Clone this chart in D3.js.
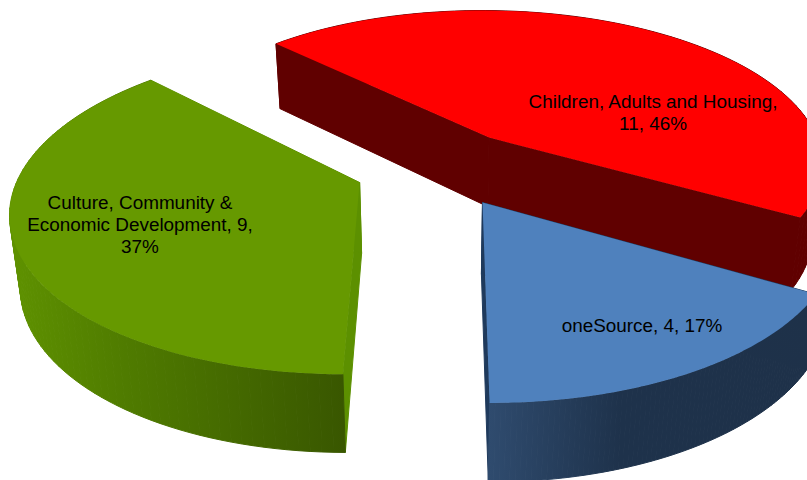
<!DOCTYPE html>
<html>
<head>
<meta charset="utf-8">
<script src="https://cdn.jsdelivr.net/npm/d3@7"></script>
<style>
  html, body { margin: 0; padding: 0; background: #fff; }
  svg { display: block; }
  text { font-family: "Liberation Sans", Arial, sans-serif; font-size: 18.9px; fill: #000; }
</style>
</head>
<body>
<script>
// Portfolio split by directorate
const categories = ["Children, Adults and Housing", "oneSource", "Culture, Community & Economic Development"];
const counts = [11, 4, 9];
const percents = [46, 17, 37];
const topColors = ["#ff0000", "#4f81bd", "#669900"];
const sideStops = [
  [["0%", "#600000"], ["100%", "#600000"]],
  [["0%", "#2f4b6e"], ["40%", "#1e324b"], ["100%", "#1e3149"]],
  [["0%", "#5f9200"], ["35%", "#4f7b00"], ["100%", "#395700"]]
];
const faceColors = ["#600000", "#1f3a5c", "#5c9000"];
const labelLines = [
  ["Children, Adults and Housing,", "11, 46%"],
  ["oneSource, 4, 17%"],
  ["Culture, Community &", "Economic Development, 9,", "37%"]
];
const labelAnchors = [[653, 113], [642, 326], [140, 225]];

const width = 807, height = 480;
const deg = Math.PI / 180;

// Perspective view of the tilted disc
const view = { cx: 439, cy: 167.5, a: 338, b: 156, p: 0.159, depth: 70.3, q: 0.0917, shrink: 0.025, explode: 0.25 };
const rotation = -44.8;

function project(u, v, lower) {
  const w = 1 - view.p * v;
  let x = view.cx + view.a * u / w;
  let y = view.cy + view.b * v / w;
  if (lower) {
    y += view.depth / (1 - view.q * v);
    x = view.cx + (x - view.cx) * (1 - view.shrink);
  }
  return [x, y];
}

const svg = d3.select("body").append("svg")
  .attr("width", width).attr("height", height)
  .style("overflow", "hidden");
const defs = svg.append("defs");
const line = d3.line();

const arcs = d3.pie().sort(null).value(d => d)
  .startAngle(rotation * deg).endAngle((rotation + 360) * deg)(counts);

const rim = (a, o) => [o[0] + Math.sin(a), o[1] - Math.cos(a)];

// Back-to-front: the red wedge sits behind the other two
[0, 2, 1].forEach(i => {
  const arc = arcs[i];
  const mid = (arc.startAngle + arc.endAngle) / 2;
  const origin = [view.explode * Math.sin(mid), -view.explode * Math.cos(mid)];
  const sweep = d3.range(0, 81).map(k => arc.startAngle + (arc.endAngle - arc.startAngle) * k / 80);
  const rimPts = sweep.map(a => rim(a, origin));

  const upper = rimPts.map(p => project(p[0], p[1], false));
  const lower = rimPts.map(p => project(p[0], p[1], true));
  const apexUp = project(origin[0], origin[1], false);
  const apexLow = project(origin[0], origin[1], true);

  const xs = upper.map(p => p[0]);
  const gid = "wall" + i;
  const grad = defs.append("linearGradient").attr("id", gid)
    .attr("gradientUnits", "userSpaceOnUse")
    .attr("x1", d3.min(xs)).attr("x2", d3.max(xs)).attr("y1", 0).attr("y2", 0);
  sideStops[i].forEach(s => grad.append("stop").attr("offset", s[0]).attr("stop-color", s[1]));

  const g = svg.append("g");
  // Two radial cut faces
  [[upper[0], lower[0]], [upper[80], lower[80]]].forEach(edge => {
    g.append("path")
      .attr("d", line([apexUp, edge[0], edge[1], apexLow]) + "Z")
      .attr("fill", faceColors[i])
      .attr("stroke", faceColors[i]).attr("stroke-width", 1);
  });
  // Curved outer wall, one strip per step so folds at the silhouette stay filled
  d3.range(0, 80).forEach(k => {
    g.append("path")
      .attr("d", line([upper[k], upper[k + 1], lower[k + 1], lower[k]]) + "Z")
      .attr("fill", `url(#${gid})`)
      .attr("stroke", `url(#${gid})`).attr("stroke-width", 1);
  });
  // Top surface
  g.append("path")
    .attr("d", line([apexUp].concat(upper)) + "Z")
    .attr("fill", topColors[i]);
});

// Labels go above every wedge
labelLines.forEach((lines, i) => {
  const t = svg.append("text").attr("text-anchor", "middle");
  lines.forEach((s, j) => {
    t.append("tspan")
      .attr("x", labelAnchors[i][0])
      .attr("y", labelAnchors[i][1] + (j - (lines.length - 1) / 2) * 22 + 6)
      .text(s);
  });
});
</script>
</body>
</html>
